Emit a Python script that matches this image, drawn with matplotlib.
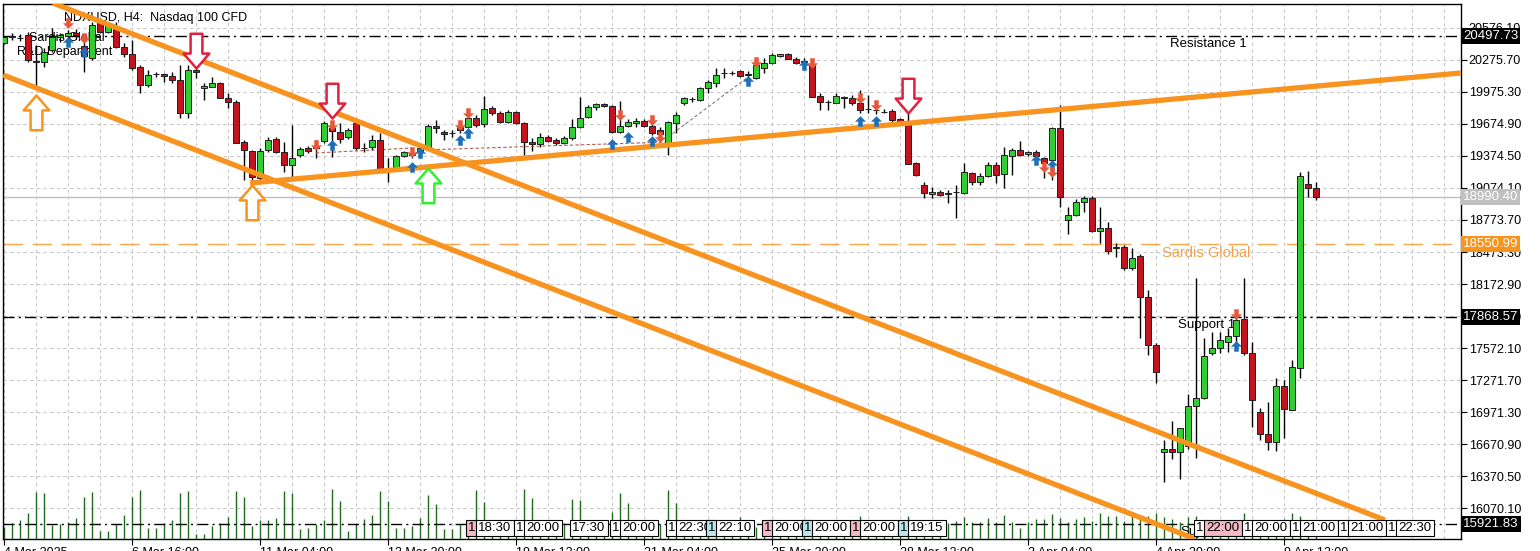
import matplotlib
matplotlib.use("Agg")
import matplotlib.pyplot as plt
from matplotlib.path import Path

plt.rcParams["font.family"] = ["Liberation Sans", "DejaVu Sans"]

# NDXUSD H4 candles
opens = [20432, 20498, 20479, 20507, 20263, 20254, 20366, 20488, 20498, 20526,
         20404, 20291, 20619, 20535, 20563, 20395, 20329, 20207, 20038, 20141,
         20141, 20123, 20085, 19776, 20179, 20010, 20020, 20057, 19917, 19879,
         19504, 19420, 19167, 19429, 19532, 19410, 19289, 19382, 19448, 19467,
         19514, 19635, 19598, 19551, 19682, 19448, 19457, 19523, 19260, 19270,
         19373, 19401, 19410, 19457, 19654, 19598, 19589, 19645, 19645, 19729,
         19673, 19823, 19776, 19692, 19785, 19682, 19504, 19485, 19551, 19523,
         19495, 19542, 19645, 19738, 19832, 19860, 19842, 19598, 19654, 19682,
         19701, 19654, 19617, 19476, 19682, 19870, 19907, 19898, 20010, 20057,
         20151, 20151, 20170, 20141, 20104, 20198, 20245, 20310, 20329, 20282,
         20263, 20226, 19935, 19879, 19870, 19926, 19917, 19870, 19813, 19804,
         19785, 19795, 19720, 19692, 19307, 19101, 19017, 19036, 19017, 19036,
         19026, 19214, 19129, 19186, 19289, 19204, 19373, 19429, 19392, 19410,
         19354, 19335, 19635, 18773, 18820, 18942, 18979, 18670, 18698, 18520,
         18520, 18323, 18436, 18052, 17602, 16599, 16627, 16599, 16655, 17030,
         17105, 17527, 17574, 17630, 17686, 17845, 17527, 16974, 16768, 16693,
         17217, 16993, 17386, 19111, 19073]
highs = [20498, 20526, 20516, 20535, 20413, 20385, 20573, 20526, 20554, 20563,
         20507, 20629, 20648, 20629, 20629, 20432, 20460, 20226, 20179, 20160,
         20151, 20160, 20226, 20226, 20198, 20057, 20113, 20066, 19963, 19898,
         19523, 19429, 19448, 19551, 19551, 19504, 19664, 19457, 19467, 19523,
         19701, 19692, 19682, 19635, 19701, 19495, 19570, 19589, 19354, 19382,
         19420, 19429, 19467, 19673, 19710, 19617, 19617, 19682, 19748, 19757,
         19935, 19842, 19795, 19804, 19795, 19692, 19542, 19589, 19570, 19542,
         19560, 19720, 19926, 19851, 19870, 19870, 19851, 19888, 19720, 19729,
         19720, 19720, 19645, 19701, 19785, 19926, 19926, 20020, 20085, 20198,
         20198, 20170, 20179, 20170, 20273, 20291, 20338, 20329, 20338, 20301,
         20291, 20282, 19963, 19898, 19963, 19935, 19945, 19992, 19945, 19851,
         19813, 19813, 19729, 19785, 19317, 19129, 19082, 19054, 19054, 19101,
         19307, 19223, 19214, 19317, 19317, 19457, 19448, 19514, 19420, 19429,
         19364, 19645, 19851, 18895, 18970, 18998, 18998, 18895, 18754, 18558,
         18539, 18511, 18454, 18117, 17620, 16711, 16889, 16824, 17142, 18230,
         17667, 17724, 17724, 17761, 17902, 18230, 17630, 17011, 17067, 17292,
         17274, 17461, 19223, 19232, 19129]
lows = [20423, 20460, 20451, 20254, 20020, 20207, 20348, 20441, 20460, 20479,
        20160, 20273, 20526, 20526, 20385, 20301, 20179, 19963, 20020, 20113,
        20066, 20057, 19729, 19729, 20104, 19898, 20020, 19917, 19823, 19495,
        19148, 19129, 19139, 19410, 19401, 19223, 19167, 19364, 19401, 19354,
        19495, 19364, 19495, 19532, 19429, 19410, 19429, 19242, 19129, 19260,
        19364, 19354, 19392, 19429, 19589, 19523, 19551, 19589, 19635, 19645,
        19645, 19757, 19682, 19682, 19673, 19382, 19420, 19457, 19504, 19476,
        19485, 19523, 19635, 19729, 19804, 19832, 19589, 19589, 19645, 19645,
        19645, 19570, 19523, 19382, 19589, 19851, 19879, 19888, 19963, 20020,
        20104, 20132, 20113, 20104, 20095, 20151, 20235, 20301, 20282, 20235,
        20226, 19926, 19804, 19804, 19870, 19823, 19851, 19776, 19776, 19767,
        19776, 19692, 19682, 19298, 19186, 18979, 18979, 18998, 18932, 18792,
        19017, 19101, 19101, 19176, 19120, 19073, 19195, 19373, 19373, 19335,
        19167, 19148, 18895, 18642, 18811, 18848, 18661, 18558, 18454, 18426,
        18305, 18305, 17667, 17508, 17246, 16318, 16533, 16346, 16627, 16543,
        17096, 17508, 17527, 17536, 17555, 17508, 16833, 16711, 16618, 16608,
        16730, 16993, 17292, 18989, 18961]
closes = [20488, 20488, 20479, 20273, 20254, 20348, 20488, 20507, 20526, 20507,
          20310, 20601, 20535, 20601, 20395, 20329, 20198, 20038, 20132, 20138,
          20123, 20085, 19776, 20179, 20160, 20029, 20057, 19917, 19879, 19495,
          19429, 19176, 19420, 19523, 19410, 19289, 19354, 19439, 19420, 19448,
          19682, 19607, 19532, 19617, 19448, 19445, 19523, 19251, 19257, 19373,
          19410, 19382, 19448, 19654, 19635, 19579, 19586, 19617, 19729, 19664,
          19813, 19776, 19692, 19785, 19682, 19504, 19485, 19551, 19514, 19495,
          19542, 19645, 19729, 19832, 19860, 19842, 19598, 19654, 19692, 19701,
          19654, 19589, 19579, 19692, 19757, 19917, 19905, 20010, 20066, 20132,
          20148, 20153, 20123, 20132, 20226, 20245, 20320, 20329, 20282, 20245,
          20254, 19926, 19879, 19876, 19935, 19917, 19870, 19804, 19810, 19801,
          19787, 19710, 19682, 19298, 19195, 19026, 19036, 19007, 19026, 19033,
          19223, 19129, 19186, 19289, 19195, 19382, 19429, 19382, 19410, 19373,
          19307, 19635, 18989, 18820, 18942, 18979, 18670, 18698, 18483, 18511,
          18323, 18417, 18052, 17602, 17349, 16627, 16599, 16824, 17030, 17105,
          17499, 17574, 17649, 17686, 17836, 17527, 17086, 16768, 16693, 17217,
          17002, 17396, 19186, 19073, 18990.40]
volumes = [1200, 1600, 1900, 2600, 4700, 4600, 1400, 1500, 1700, 2100,
           4200, 4700, 800, 800, 1500, 2400, 4200, 4900, 1100, 1100,
           1600, 1900, 4600, 4800, 500, 500, 1300, 1600, 2200, 4800,
           4200, 1300, 1900, 1900, 2100, 4800, 4600, 1000, 1100, 1500,
           1900, 5000, 3800, 800, 1500, 2000, 2400, 4800, 3800, 1100,
           1100, 1300, 2100, 4400, 3500, 1000, 1000, 1500, 1800, 4900,
           3700, 1000, 1200, 1400, 1600, 5000, 4100, 1000, 1200, 1400,
           1600, 4000, 3900, 900, 1100, 1400, 2700, 4600, 3600, 1000,
           1200, 1300, 1500, 4900, 3600, 900, 1000, 1200, 1400, 1600,
           1500, 1200, 2200, 1000, 1200, 1600, 1500, 900, 1100, 1200,
           1400, 1700, 1600, 1000, 1100, 1200, 1400, 2300, 1600, 1000,
           1100, 1300, 1500, 2300, 1700, 1000, 1200, 1400, 1600, 1800,
           2200, 1700, 1700, 2100, 1700, 2400, 1700, 1100, 1700, 2000,
           2000, 2500, 2100, 1700, 2000, 2200, 1800, 2600, 2300, 2300,
           1800, 2300, 2200, 2300, 2600, 2200, 2000, 1700, 2200, 2300,
           1500, 1600, 1800, 1400, 1700, 2600, 1800, 1500, 1600, 1800,
           2000, 2600, 2300, 1400, 800]

date_labels = ["4 Mar 2025", "6 Mar 16:00", "11 Mar 04:00", "13 Mar 20:00",
               "19 Mar 12:00", "21 Mar 04:00", "25 Mar 20:00", "28 Mar 12:00",
               "2 Apr 04:00", "4 Apr 20:00", "9 Apr 12:00"]

# horizontal levels
level_prices = [20497.73, 18990.40, 18550.99, 17868.57, 15921.83]
level_names = ["Resistance 1", "", "Sardis Global", "Support 1", "Support"]

# trend lines: (bar, price) end points
trend_a = [(6.1, 20807), (172.6, 15962)]
trend_b = [(-0.1, 20132), (148.9, 15784)]
trend_c = [(30.75, 19120), (182.1, 20151)]

# big signal arrows
big_up_bars = [4, 31, 53]
big_up_prices = [19945, 19101, 19260]
big_up_colors = ["#F7941D", "#F7941D", "#33EE33"]
big_dn_bars = [24, 41, 113]
big_dn_prices = [20198, 19729, 19776]

# small signal arrows
buy_bars = [8, 10, 41, 51, 52, 57, 58, 76, 78, 81, 93, 100, 107, 109, 129, 131, 154]
buy_prices = [20488, 20395, 19523, 19317, 19448, 19570, 19635, 19532, 19598, 19560,
              20123, 20273, 19748, 19748, 19382, 19335, 17639]
sell_bars = [8, 10, 39, 41, 51, 57, 58, 77, 81, 82, 94, 101, 107, 109, 130, 131, 154]
sell_prices = [20573, 20432, 19429, 19617, 19364, 19617, 19729, 19710, 19664, 19504,
               20207, 20198, 19870, 19804, 19223, 19176, 17845]

# calendar event flags along the bottom
event_bars = [58, 64, 71, 76, 83, 88, 95, 100, 106, 112, 149, 155, 161, 167, 173]
event_times = ["18:30", "20:00", "17:30", "20:00", "22:30", "22:10", "20:00", "20:00",
               "20:00", "19:15", "22:00", "20:00", "21:00", "21:00", "22:30"]
event_flags = ["#F4B8C4", "white", None, "white", "white", "#B8E8EC", "#F4B8C4", "#B8E8EC",
               "#F4B8C4", "#B8E8EC", "white", "white", "white", "white", "white"]
event_faces = ["white"] * 10 + ["#F4B8C4"] + ["white"] * 4


def arrow_marker(head_w, shaft_w, head_h, down=False):
    s = -1 if down else 1
    verts = [(0, 0), (head_w, -head_h * s), (shaft_w, -head_h * s), (shaft_w, -2 * s),
             (-shaft_w, -2 * s), (-shaft_w, -head_h * s), (-head_w, -head_h * s), (0, 0)]
    codes = [Path.MOVETO] + [Path.LINETO] * 6 + [Path.CLOSEPOLY]
    return Path(verts, codes)


fig = plt.figure(figsize=(15.4, 5.51), dpi=100)
ax = fig.add_axes([3 / 1540, 12 / 551, 1458 / 1540, 535 / 551])
ax.set_xlim(-0.125, 182.125)
ax.set_ylim(15783.6, 20797.6)

bars = list(range(len(opens)))

# volumes at the bottom of the price window
vol_top = max(volumes) / 0.094
ax.vlines(bars, 0, [v / vol_top for v in volumes], transform=ax.get_xaxis_transform(),
          color="#1E6B1E", lw=1, zorder=2)

# candles
up = [c >= o for o, c in zip(opens, closes)]
body_low = [min(o, c) for o, c in zip(opens, closes)]
body_h = [abs(c - o) for o, c in zip(opens, closes)]
ax.vlines(bars, lows, highs, color="black", lw=1, zorder=3)
ax.bar(bars, body_h, bottom=body_low, width=0.68,
       color=["#32CD32" if u else "#C0141E" for u in up],
       edgecolor="#202020", linewidth=0.7, zorder=3.5)

# horizontal levels
ax.axhline(level_prices[0], color="black", lw=1, ls=(0, (8, 3, 1.5, 3)), zorder=2)
ax.axhline(level_prices[1], color="#C0C0C0", lw=1, zorder=2)
ax.axhline(level_prices[2], color="#F7A64A", lw=1, ls=(0, (14, 7)), zorder=2)
ax.axhline(level_prices[3], color="black", lw=1, ls=(0, (8, 3, 1.5, 3)), zorder=2)
ax.axhline(level_prices[4], color="black", lw=1, ls=(0, (8, 3, 1.5, 3)), zorder=2)

ax.text(145.8, 20423, level_names[0], fontsize=9.5, va="center", ha="left", zorder=2)
ax.text(144.7, 18464, level_names[2], fontsize=10.5, color="#F4A04A", va="center", ha="left", zorder=2)
ax.text(146.7, 17789, level_names[3], fontsize=9.5, va="center", ha="left", zorder=2)
ax.text(147.0, 15850, level_names[4], fontsize=9.5, va="center", ha="left", zorder=2)

# signal connectors
ax.plot([39, 51], [19401, 19448], color="#B06050", lw=0.8, ls=(0, (3, 2)), zorder=3)
ax.plot([52, 83], [19429, 19504], color="#B06050", lw=0.8, ls=(0, (3, 2)), zorder=3)
ax.plot([83, 93], [19551, 20113], color="#808080", lw=0.8, ls=(0, (3, 2)), zorder=3)

# trend lines
for line in (trend_a, trend_b, trend_c):
    ax.plot([p[0] for p in line], [p[1] for p in line], color="#F7931E", lw=3.8,
            solid_capstyle="butt", zorder=4)

# small arrows
ax.plot(buy_bars, buy_prices, ls="none", marker=arrow_marker(1.0, 0.42, 1.0), ms=14.4,
        mfc="#1F6FB8", mec="#1F6FB8", mew=0.3, zorder=5)
ax.plot(sell_bars, sell_prices, ls="none", marker=arrow_marker(1.0, 0.42, 1.0, down=True), ms=14.4,
        mfc="#E5583C", mec="#E5583C", mew=0.3, zorder=5)

# big hollow arrows
for b, p, c in zip(big_up_bars, big_up_prices, big_up_colors):
    ax.plot([b], [p], ls="none", marker=arrow_marker(0.74, 0.34, 0.86), ms=50,
            mfc="white", mec=c, mew=1.8, zorder=6)
for b, p in zip(big_dn_bars, big_dn_prices):
    ax.plot([b], [p], ls="none", marker=arrow_marker(0.74, 0.34, 0.86, down=True), ms=50,
            mfc="white", mec="#E0203C", mew=1.8, zorder=6)

# event flags
ev_y = 11 / 535
trans_ev = ax.get_xaxis_transform()
for b, t, flag, face in zip(event_bars, event_times, event_flags, event_faces):
    xb = b
    if flag:
        ax.text(b, ev_y, "1", transform=trans_ev, fontsize=9.5, ha="left", va="center",
                bbox=dict(boxstyle="square,pad=0.18", fc=flag, ec="black", lw=0.8), zorder=7,
                clip_on=True)
        xb = b + 1.3
    ax.text(xb, ev_y, t, transform=trans_ev, fontsize=9.5, ha="left", va="center",
            bbox=dict(boxstyle="square,pad=0.18", fc=face, ec="black", lw=0.8), zorder=7,
            clip_on=True)

# labels in the corner
ax.text(62 / 1458 - 0.001, 0.974, "NDXUSD, H4:  Nasdaq 100 CFD", transform=ax.transAxes,
        fontsize=9, va="center", ha="left", zorder=1)
ax.text(0.0178, 0.9364, "Sardis Global", transform=ax.transAxes, fontsize=9, va="center", zorder=2)
ax.text(0.0096, 0.910, "R&D Department", transform=ax.transAxes, fontsize=9, va="center", zorder=2)

# axes styling
yticks = [20576.10 - 300.40 * k for k in range(16)]
ax.yaxis.tick_right()
ax.set_yticks(yticks)
ax.set_yticklabels([f"{v:.2f}" for v in yticks])
ax.set_xticks(range(0, 161, 16))
ax.set_xticklabels(date_labels, ha="left")
ax.set_xticks(range(0, 183, 4), minor=True)
ax.tick_params(axis="y", direction="out", length=4, pad=1.5, labelsize=9)
ax.tick_params(axis="x", which="major", direction="out", length=4, pad=2, labelsize=9)
ax.tick_params(axis="x", which="minor", length=0)
ax.grid(axis="x", which="both", color="#C8C8C8", lw=0.8, ls=(0, (3, 3)))
ax.grid(axis="y", which="major", color="#C8C8C8", lw=0.8, ls=(0, (3, 3)))
ax.set_axisbelow(True)
for s in ax.spines.values():
    s.set_color("black")
    s.set_linewidth(1)

# price tags on the right scale
tag_bg = ["black", "#C0C0C0", "#F7941D", "black", "black"]
for p, bg in zip(level_prices, tag_bg):
    ax.text(1.0014, p, f"{p:.2f}", transform=ax.get_yaxis_transform(), ha="left", va="center",
            fontsize=9.5, color="white", clip_on=False, zorder=10,
            bbox=dict(boxstyle="square,pad=0.15", fc=bg, ec="none"))

fig.savefig("out.png", dpi=100)
plt.close(fig)
